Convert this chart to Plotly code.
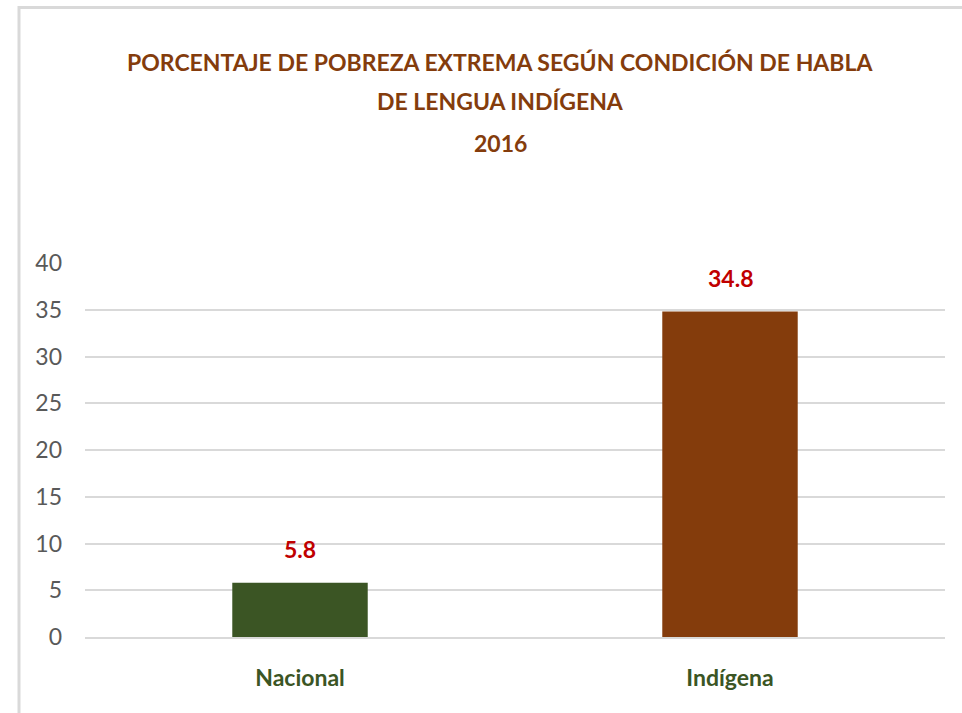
import plotly.graph_objects as go

categories = ["Nacional", "Indígena"]
values = [5.8, 34.8]
bar_colors = ["#3b5524", "#843c0c"]
y_ticks = [0, 5, 10, 15, 20, 25, 30, 35, 40]
title_lines = ["PORCENTAJE DE POBREZA EXTREMA SEGÚN CONDICIÓN DE HABLA",
               "DE LENGUA INDÍGENA", "2016"]

W, H = 962, 713
L, R, T, B = 85, 17, 263, 76
pw, ph = W - L - R, H - T - B

def px_x(p):
    return (p - L) / pw

def px_y(p):
    return (H - B - p) / ph

FONT = "Lato, Roboto, sans-serif"

fig = go.Figure()
fig.add_trace(go.Bar(
    x=categories, y=values, width=0.315,
    marker=dict(color=bar_colors, line=dict(width=0)),
    hoverinfo="skip",
))

for c, v in zip(categories, values):
    fig.add_annotation(x=c, y=v, text=f"{v:.1f}", showarrow=False,
                       yanchor="middle", yshift=34,
                       font=dict(family=FONT, size=23, color="#c00000", weight="bold"))

title_y = [62, 101, 143]
for t, yy in zip(title_lines, title_y):
    fig.add_annotation(xref="paper", yref="paper", x=px_x(500), y=px_y(yy),
                       text=t, showarrow=False, xanchor="center", yanchor="middle",
                       font=dict(family=FONT, size=23, color="#843c0c", weight="bold"))

# outer frame (top and left edges visible)
fig.add_shape(type="line", xref="paper", yref="paper",
              x0=px_x(19), x1=px_x(965), y0=px_y(7.5), y1=px_y(7.5),
              line=dict(color="#d9d9d9", width=3))
fig.add_shape(type="line", xref="paper", yref="paper",
              x0=px_x(19), x1=px_x(19), y0=px_y(6), y1=px_y(716),
              line=dict(color="#d9d9d9", width=3))

fig.update_layout(
    width=W, height=H,
    margin=dict(l=L, r=R, t=T, b=B),
    paper_bgcolor="white", plot_bgcolor="white",
    showlegend=False,
)
fig.update_yaxes(range=[0, 40], tickvals=y_ticks, showgrid=True,
                 gridcolor="#d9d9d9", gridwidth=2, zeroline=False,
                 showline=False, ticks="", ticklabelstandoff=22,
                 tickfont=dict(family=FONT, size=23, color="#595959"))
fig.update_xaxes(showgrid=False, showline=True, linecolor="#d9d9d9", linewidth=2,
                 ticks="", ticklabelstandoff=19,
                 tickfont=dict(family=FONT, size=23, color="#3b5524", weight="bold"))

fig.write_html("out.html")
